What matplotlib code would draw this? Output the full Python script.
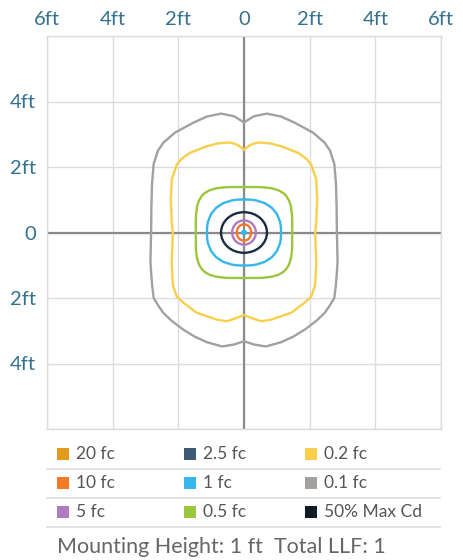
import matplotlib
matplotlib.use("Agg")
import matplotlib.pyplot as plt
from matplotlib.patches import Ellipse, Rectangle
import numpy as np

plt.rcParams['font.family'] = ['Lato', 'DejaVu Sans']

# grid ticks (ft)
ticks = [-6, -4, -2, 0, 2, 4, 6]
x_ticklabels = ['6ft', '4ft', '2ft', '0', '2ft', '4ft', '6ft']
y_ticks = [-4, -2, 0, 2, 4]
y_ticklabels = ['4ft', '2ft', '0', '2ft', '4ft']

# 0.1 fc contour, right half (x, y in ft), top centre -> bottom centre
gray_x = [0.0, 0.3, 0.7, 1.13, 1.55, 2.1, 2.45, 2.62, 2.75, 2.8, 2.82, 2.83,
          2.85, 2.8, 2.75, 2.6, 2.47, 2.2, 1.86, 1.5, 1.13, 0.67, 0.3, 0.0]
gray_y = [3.36, 3.55, 3.63, 3.54, 3.35, 3.05, 2.75, 2.5, 2.1, 1.5, 0.8, 0.0,
          -0.9, -1.6, -2.0, -2.25, -2.44, -2.7, -2.96, -3.18, -3.35, -3.48, -3.42, -3.32]

# 0.2 fc contour, right half
yellow_x = [0.0, 0.2, 0.43, 0.8, 1.14, 1.65, 1.9, 2.05, 2.2, 2.23, 2.2, 2.17,
            2.2, 2.18, 2.16, 2.05, 1.85, 1.44, 0.83, 0.53, 0.25, 0.0]
yellow_y = [2.53, 2.68, 2.75, 2.72, 2.63, 2.43, 2.25, 2.07, 1.62, 1.0, 0.3, 0.0,
            -0.92, -1.4, -1.63, -1.95, -2.14, -2.45, -2.66, -2.71, -2.62, -2.52]

# 0.5 fc contour, first quadrant
green_x = [1.47, 1.467, 1.458, 1.425, 1.368, 1.287, 1.236, 1.179, 1.039, 0.86, 0.613, 0.41, 0.0]
green_y = [0.0, 0.41, 0.58, 0.813, 0.983, 1.115, 1.169, 1.216, 1.294, 1.347, 1.379, 1.387, 1.39]

# 1 fc contour, first quadrant
blue_x = [1.13, 1.122, 1.098, 1.002, 0.846, 0.634, 0.367, 0.207, 0.0]
blue_y = [0.0, 0.185, 0.328, 0.567, 0.757, 0.896, 0.981, 1.002, 1.01]

# small near-elliptical contours: (width, height) in ft
navy_size = (1.40, 1.24)
purple_size = (0.72, 0.74)
orange_size = (0.44, 0.50)
dot_size = (0.14, 0.14)

legend_labels = ['20 fc', '2.5 fc', '0.2 fc',
                 '10 fc', '1 fc', '0.1 fc',
                 '5 fc', '0.5 fc', '50% Max Cd']
legend_colors = ['#e39b1b', '#3e5a72', '#f8cf4a',
                 '#f47a2a', '#36b6ea', '#a3a19f',
                 '#b07ac0', '#9dc63c', '#121a24']

c_gray = '#a3a19f'
c_yellow = '#f8cf4a'
c_green = '#9dc63c'
c_blue = '#36b6ea'
c_navy = '#1b2c42'
c_purple = '#b07ac0'
c_orange = '#f47a2a'
tick_color = '#33718f'


def mirror_half(xs, ys):
    xs = np.array(xs)
    ys = np.array(ys)
    return np.concatenate([xs, -xs[::-1]]), np.concatenate([ys, ys[::-1]])


def mirror_quadrant(xs, ys):
    xs = np.array(xs)
    ys = np.array(ys)
    hx = np.concatenate([xs[::-1], xs[1:]])
    hy = np.concatenate([ys[::-1], -ys[1:]])
    return mirror_half(hx, hy)


fig = plt.figure(figsize=(4.63, 5.6), dpi=100)
ax = fig.add_axes([47 / 463, (560 - 429) / 560, 394 / 463, 393 / 560])
ax.set_xlim(-6, 6)
ax.set_ylim(-6, 6)

for t in ticks:
    ax.axvline(t, color='#dcdcdc', lw=1.0, zorder=0)
    ax.axhline(t, color='#dcdcdc', lw=1.0, zorder=0)
ax.axvline(0, color='#8a8a8a', lw=1.6, zorder=1)
ax.axhline(0, color='#8a8a8a', lw=1.6, zorder=1)

lw = 1.7
gx, gy = mirror_half(gray_x, gray_y)
ax.plot(gx, gy, color=c_gray, lw=lw, zorder=2)
yx, yy = mirror_half(yellow_x, yellow_y)
ax.plot(yx, yy, color=c_yellow, lw=lw, zorder=2)
grx, gry = mirror_quadrant(green_x, green_y)
ax.plot(grx, gry, color=c_green, lw=lw, zorder=2)
bx, by = mirror_quadrant(blue_x, blue_y)
ax.plot(bx, by, color=c_blue, lw=lw, zorder=2)

for size, col in [(navy_size, c_navy), (purple_size, c_purple), (orange_size, c_orange)]:
    ax.add_patch(Ellipse((0, 0), size[0], size[1], fill=False, ec=col, lw=lw, zorder=3))
ax.add_patch(Ellipse((0, 0), dot_size[0], dot_size[1], fc=c_blue, ec=c_blue, lw=0.8, zorder=3))

ax.set_xticks(ticks)
ax.set_xticklabels(x_ticklabels)
ax.set_yticks(y_ticks)
ax.set_yticklabels(y_ticklabels)
ax.xaxis.tick_top()
ax.tick_params(axis='both', length=0, labelsize=14.5, labelcolor=tick_color)
ax.tick_params(axis='x', pad=6)
ax.tick_params(axis='y', pad=8)
for s in ax.spines.values():
    s.set_color('#dcdcdc')
    s.set_linewidth(1.0)

# legend table below the plot
W, H = 463, 560
row_y = [454, 483, 512]
sep_y = [469, 498, 527]
col_x = [57, 184, 305]
for i, (lab, col) in enumerate(zip(legend_labels, legend_colors)):
    r, c = divmod(i, 3)
    y = row_y[r]
    fig.patches.append(Rectangle((col_x[c] / W, (H - y - 6) / H), 12 / W, 12 / H,
                                 transform=fig.transFigure, fc=col, ec='none'))
    fig.text((col_x[c] + 19) / W, (H - y) / H, lab, fontsize=12.5, color='#555555',
             va='center', ha='left')
for y in sep_y:
    fig.add_artist(plt.Line2D([47 / W, 440 / W], [(H - y) / H] * 2,
                              color='#dddddd', lw=1.2, transform=fig.transFigure))

fig.text(57 / W, (H - 547) / H, 'Mounting Height: 1 ft  Total LLF: 1', fontsize=15.5,
         color='#666666', va='center', ha='left')

fig.savefig('out.png', dpi=100)
